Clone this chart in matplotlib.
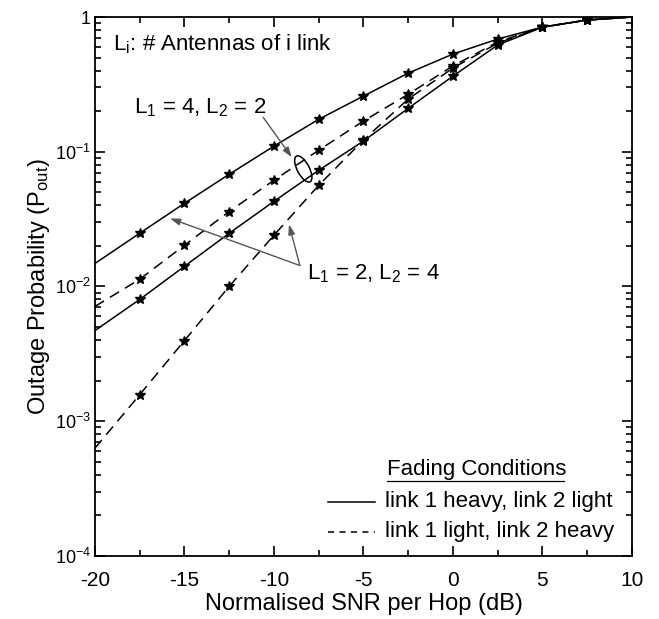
import matplotlib
matplotlib.use("Agg")
import math
import matplotlib.pyplot as plt
import matplotlib.ticker as mticker
from matplotlib.patches import Ellipse
from matplotlib.transforms import ScaledTranslation

plt.rcParams['font.family'] = ['Liberation Sans', 'DejaVu Sans']
plt.rcParams['mathtext.fontset'] = 'custom'
plt.rcParams['mathtext.rm'] = 'Liberation Sans'
plt.rcParams['mathtext.it'] = 'Liberation Sans:italic'
plt.rcParams['mathtext.default'] = 'regular'
plt.rcParams['axes.unicode_minus'] = False

# SNR grid (dB)
snr = [-20, -17.5, -15, -12.5, -10, -7.5, -5, -2.5, 0, 2.5, 5, 7.5, 10]
marker_snr = [-17.5, -15, -12.5, -10, -7.5, -5, -2.5, 0, 2.5, 5, 7.5]

# L1=2, L2=4, link 1 heavy / link 2 light (solid, upper)
solid_a = [0.0148, 0.0248, 0.0414, 0.068, 0.11, 0.174, 0.259, 0.383, 0.531, 0.686, 0.843, 0.95, 1.0]
# L1=4, L2=2, link 1 light / link 2 heavy (dashed, upper)
dashed_a = [0.0071, 0.0113, 0.0202, 0.036, 0.0614, 0.1026, 0.169, 0.267, 0.433, 0.652, 0.843, 0.95, 1.0]
# L1=4, L2=2, link 1 heavy / link 2 light (solid, lower)
solid_b = [0.0047, 0.008, 0.0141, 0.0248, 0.0428, 0.0728, 0.12, 0.21, 0.364, 0.62, 0.84, 0.95, 1.0]
# L1=2, L2=4, link 1 light / link 2 heavy (dashed, lower)
dashed_b = [0.00063, 0.00157, 0.00396, 0.01, 0.024, 0.0563, 0.122, 0.246, 0.418, 0.64, 0.84, 0.95, 1.0]

legend_labels = ['link 1 heavy, link 2 light', 'link 1 light, link 2 heavy']

fig = plt.figure(figsize=(6.59, 6.19), dpi=100)
ax = fig.add_axes([0.144, 0.102, 0.815, 0.8705])

dash = (0, (7, 4.5))
series = [(solid_a, '-'), (dashed_a, dash), (solid_b, '-'), (dashed_b, dash)]
for vals, ls in series:
    ax.plot(snr, vals, color='black', lw=1.1, linestyle=ls)
    mv = [v for s, v in zip(snr, vals) if s in marker_snr]
    ax.plot(marker_snr, mv, linestyle='none', marker='*', color='black', ms=7)

ax.set_yscale('log')
ax.set_xlim(-20, 10)
ax.set_ylim(1e-4, 1)

ax.xaxis.set_major_locator(mticker.MultipleLocator(5))
ax.xaxis.set_minor_locator(mticker.MultipleLocator(2.5))
ax.yaxis.set_major_locator(mticker.LogLocator(base=10, numticks=10))
ax.yaxis.set_minor_locator(mticker.LogLocator(base=10, subs=range(2, 10), numticks=20))
ax.yaxis.set_minor_formatter(mticker.NullFormatter())

def yfmt(v, pos):
    e = int(round(math.log10(v)))
    if e == 0:
        return '1'
    return r'10$^{%d}$' % e
ax.yaxis.set_major_formatter(mticker.FuncFormatter(yfmt))

ax.tick_params(which='both', direction='in', top=True, right=True, width=1.2, colors='black')
ax.tick_params(which='major', length=7)
ax.tick_params(which='minor', length=4)
ax.tick_params(axis='x', labelsize=15, pad=11)
ax.tick_params(axis='y', labelsize=13, pad=3)
for sp in ax.spines.values():
    sp.set_linewidth(1.3)

ax.set_xlabel('Normalised SNR per Hop (dB)', fontsize=17, labelpad=2)
ax.set_ylabel(r'Outage Probability (P$_{\mathrm{out}}$)', fontsize=17, labelpad=2)

ax.text(0.033, 0.95, r'L$_{\mathrm{i}}$: # Antennas of i link', transform=ax.transAxes,
        fontsize=16, va='center', ha='left')
ax.text(-17.8, 0.214, r'L$_1$ = 4, L$_2$ = 2', fontsize=16, va='center', ha='left')
ax.text(-8.15, 0.0125, r'L$_1$ = 2, L$_2$ = 4', fontsize=16, va='center', ha='left')

arrow_kw = dict(arrowstyle='-|>,head_length=0.6,head_width=0.2', color='#555555', lw=1.0,
                shrinkA=0, shrinkB=0)
ax.annotate('', xy=(-9.0, 0.091), xytext=(-10.6, 0.18), arrowprops=arrow_kw)
ax.annotate('', xy=(-15.8, 0.032), xytext=(-8.55, 0.0143), arrowprops=arrow_kw)
ax.annotate('', xy=(-9.16, 0.0289), xytext=(-8.55, 0.0143), arrowprops=arrow_kw)

ell = Ellipse((0, 0), width=0.29, height=0.12, angle=-62, fill=False, lw=1.1, ec='black',
              transform=fig.dpi_scale_trans + ScaledTranslation(-8.36, 0.0745, ax.transData))
ax.add_artist(ell)

# legend
ax.text(0.543, 0.16, 'Fading Conditions', transform=ax.transAxes, fontsize=16,
        ha='left', va='center')
ax.plot([0.543, 0.874], [0.139, 0.139], transform=ax.transAxes, color='black', lw=0.9)
ax.plot([0.434, 0.521], [0.100, 0.100], transform=ax.transAxes, color='black', lw=1.1)
ax.plot([0.434, 0.521], [0.045, 0.045], transform=ax.transAxes, color='black', lw=1.1, linestyle=(0, (4, 3.5)))
ax.text(0.54, 0.100, legend_labels[0], transform=ax.transAxes, fontsize=16, ha='left', va='center')
ax.text(0.54, 0.045, legend_labels[1], transform=ax.transAxes, fontsize=16, ha='left', va='center')

fig.savefig('out.png', dpi=100)
